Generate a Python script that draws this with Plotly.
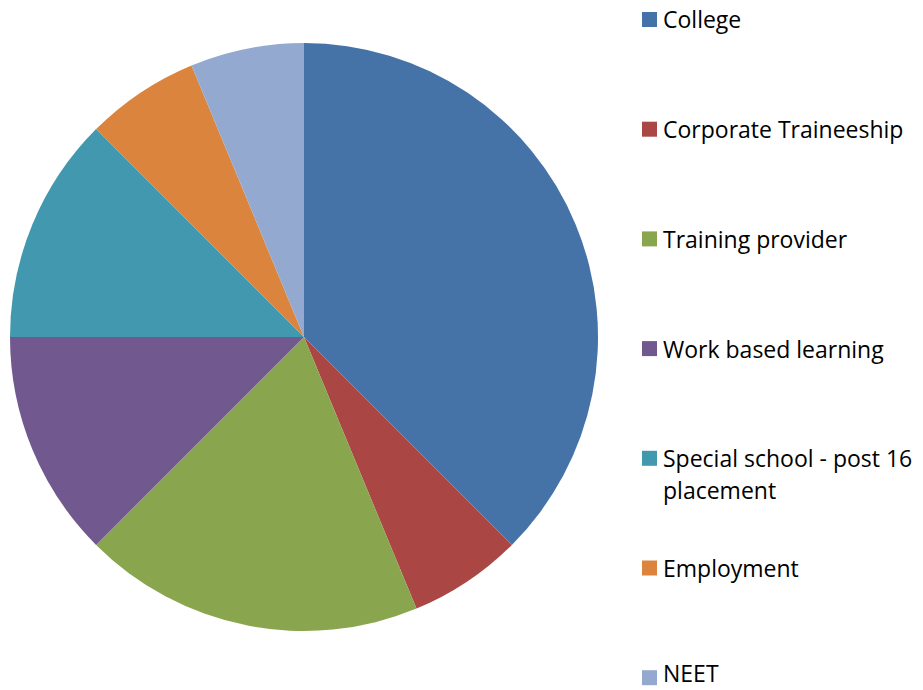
import plotly.graph_objects as go

categories = ["College", "Corporate Traineeship", "Training provider", "Work based learning",
              "Special school - post 16 placement", "Employment", "NEET"]
legend_lines = [["College"], ["Corporate Traineeship"], ["Training provider"], ["Work based learning"],
                ["Special school - post 16", "placement"], ["Employment"], ["NEET"]]
values = [6, 1, 3, 2, 2, 1, 1]
colors = ["#4572A7", "#AA4643", "#89A54E", "#71588F", "#4198AF", "#DB843D", "#93A9CF"]

W, H = 923, 690
cx, cy, r = 304, 337, 294

fig = go.Figure(go.Pie(
    labels=categories, values=values, sort=False, direction="clockwise", rotation=0,
    marker=dict(colors=colors, line=dict(width=0)), textinfo="none", hoverinfo="label+value",
    showlegend=False,
    domain=dict(x=[(cx - r) / W, (cx + r) / W], y=[(H - (cy + r)) / H, (H - (cy - r)) / H]),
))

font = dict(family="Open Sans, sans-serif", size=23, color="#000000")
shapes, annotations = [], []
y0, step = 19.5, 109.7
sq_x0, sq_x1, tx = 642, 657, 662
for i, (lines, col) in enumerate(zip(legend_lines, colors)):
    yc = y0 + i * step
    shapes.append(dict(type="rect", xref="paper", yref="paper",
                       x0=sq_x0 / W, x1=sq_x1 / W, y0=1 - (yc + 7.5) / H, y1=1 - (yc - 7.5) / H,
                       fillcolor=col, line=dict(width=0)))
    for j, t in enumerate(lines):
        ty = yc + j * 32
        if ty + 15 > H:
            ya, yp = "bottom", 0.0
        else:
            ya, yp = "middle", 1 - ty / H
        annotations.append(dict(text=t, xref="paper", yref="paper", x=tx / W, y=yp,
                                xanchor="left", yanchor=ya, showarrow=False, font=font,
                                borderpad=0))

fig.update_layout(width=W, height=H, margin=dict(l=0, r=0, t=0, b=0),
                  paper_bgcolor="white", plot_bgcolor="white",
                  shapes=shapes, annotations=annotations)
fig.write_html("out.html", config={"displayModeBar": False},
               post_script="document.body.style.margin='0';")
